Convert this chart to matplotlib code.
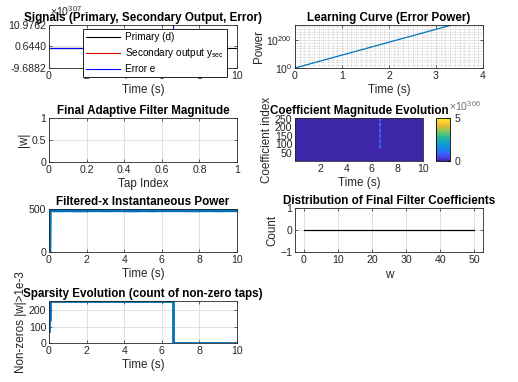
import numpy as np
import matplotlib
matplotlib.use("Agg")
import matplotlib.pyplot as plt
from matplotlib.colors import LinearSegmentedColormap

plt.rcParams['font.family'] = ['Liberation Sans', 'DejaVu Sans']
plt.rcParams['mathtext.fontset'] = 'custom'
plt.rcParams['mathtext.rm'] = 'Liberation Sans'
plt.rcParams['mathtext.it'] = 'Liberation Sans'
plt.rcParams['mathtext.default'] = 'regular'

W, H = 518, 382
TICK_FS = 7.6
LAB_FS = 8.4
AX_COL = '#262626'
MBLUE = (0.0, 0.447, 0.741)

# ---- data ----
# signals, in units of 1e307
sig_time = [0, 10]
primary = [0.0, 0.0]
sec_time = [0, 6.58]
secondary = [0.0, 0.0]
err_time = [0, 6.58, 6.58]
err_vals = [0.0, 0.0, 30.0]
sig_ticks = [-9.6882, 0.6440, 10.9762]

# learning curve (error power)
lc_time = [0.0, 3.3]
lc_power = [1e0, 1e305]

# coefficient magnitude evolution, units of 1e306
time_edges = [0.0, 6.56, 6.68, 10.0]
tap_edges = [0.5, 80, 96, 112, 128, 144, 160, 176, 192, 208, 224, 240, 256.5]
spike_col = [0.0, 1.0, 0.3, 1.0, 0.3, 1.0, 0.3, 1.0, 0.3, 1.0, 0.3, 1.0]

# filtered-x instantaneous power
fx_time = [0, 0.02, 0.5, 1.0, 1.5, 2.0, 2.5, 3.0, 3.5, 4.0, 4.5, 5.0, 5.5,
           6.0, 6.5, 7.0, 7.5, 8.0, 8.5, 9.0, 9.5, 10.0]
fx_power = [0, 490, 489, 491, 488, 490, 491, 489, 491, 490, 488, 491, 489,
            491, 490, 491, 489, 490, 491, 489, 491, 490]

# histogram of final coefficients (all empty)
hist_w = [0, 50]
hist_count = [0, 0]

# sparsity evolution
sp_time = [0, 0, 0.05, 0.05, 6.58, 6.58, 10]
sp_count = [75, 140, 140, 254, 254, 1, 1]

parula = LinearSegmentedColormap.from_list('parula', [
    (0.2422, 0.1504, 0.6603), (0.2803, 0.2782, 0.9221), (0.1801, 0.4264, 0.9969),
    (0.0855, 0.5328, 0.8826), (0.0596, 0.6183, 0.8138), (0.0942, 0.6901, 0.6788),
    (0.2586, 0.7494, 0.5303), (0.5499, 0.7800, 0.3544), (0.8304, 0.7330, 0.2246),
    (0.9926, 0.7836, 0.2195), (0.9763, 0.9831, 0.0538)])


def rect(l, t, r, b):
    return [l / W, 1 - b / H, (r - l) / W, (b - t) / H]


def style(ax, grid=True):
    for s in ax.spines.values():
        s.set_color(AX_COL)
        s.set_linewidth(0.6)
    ax.tick_params(direction='in', length=2.5, width=0.5, colors=AX_COL,
                   labelsize=TICK_FS, top=True, right=True, pad=2)
    if grid:
        ax.grid(True, color='#dcdcdc', linewidth=0.6)
        ax.set_axisbelow(True)


def title(ax, txt):
    ax.set_title(txt, fontsize=LAB_FS, fontweight='bold', pad=3)


fig = plt.figure(figsize=(W / 100, H / 100), dpi=100)

# 1. signals
ax = fig.add_axes(rect(49, 25, 237, 68))
style(ax)
ax.plot(sig_time, primary, color='k', lw=0.8, label='Primary (d)')
ax.plot(sec_time, secondary, color=(0.85, 0, 0), lw=0.8, label='Secondary output y$_{sec}$')
ax.plot(err_time, err_vals, color=(0, 0, 1), lw=0.8, label='Error e')
ax.set_xlim(0, 10)
ax.set_ylim(sig_ticks[0], sig_ticks[-1])
ax.set_yticks(sig_ticks)
ax.set_yticklabels(['%.4f' % v for v in sig_ticks])
ax.set_xticks([0, 2, 4, 6, 8, 10])
ax.set_xlabel('Time (s)', fontsize=LAB_FS, color=AX_COL, labelpad=2)
title(ax, 'Signals (Primary, Secondary Output, Error)')
fig.text(50 / W, 1 - 16 / H, r'$\times10^{307}$', fontsize=TICK_FS, color=AX_COL)
leg = ax.legend(loc='upper left', bbox_to_anchor=(83 / W, 1 - 29 / H),
                bbox_transform=fig.transFigure, fontsize=7.2, frameon=True,
                fancybox=False, edgecolor='k', framealpha=1, handlelength=3.4,
                borderaxespad=0, labelspacing=0.42, borderpad=0.3, handletextpad=0.5)
leg.get_frame().set_linewidth(0.6)
leg.set_zorder(20)

# 2. learning curve
ax = fig.add_axes(rect(295, 25, 483, 68))
style(ax)
ax.semilogy(lc_time, lc_power, color=MBLUE, lw=0.9)
ax.set_xlim(0, 4)
ax.set_ylim(1, 1e308)
ax.set_yticks([1e0, 1e200])
ax.set_yticklabels([r'$10^{0}$', r'$10^{200}$'])
ax.yaxis.set_minor_locator(matplotlib.ticker.FixedLocator([10.0 ** k for k in range(20, 308, 20)]))
ax.yaxis.set_minor_formatter(matplotlib.ticker.NullFormatter())
ax.set_xticks([0, 1, 2, 3, 4])
ax.xaxis.set_minor_locator(matplotlib.ticker.MultipleLocator(0.1))
ax.grid(True, which='minor', color='#b4b4b4', linewidth=0.5, linestyle=':')
ax.tick_params(which='minor', length=0)
ax.set_xlabel('Time (s)', fontsize=LAB_FS, color=AX_COL, labelpad=2)
ax.set_ylabel('Power', fontsize=LAB_FS, color=AX_COL, labelpad=1)
title(ax, 'Learning Curve (Error Power)')

# 3. final filter magnitude
ax = fig.add_axes(rect(49, 118, 237, 162))
style(ax)
ax.set_xlim(0, 1)
ax.set_ylim(0, 1)
ax.set_xticks([0, 0.2, 0.4, 0.6, 0.8, 1])
ax.set_xticklabels(['0', '0.2', '0.4', '0.6', '0.8', '1'])
ax.set_yticks([0, 0.5, 1])
ax.set_yticklabels(['0', '0.5', '1'])
ax.set_xlabel('Tap Index', fontsize=LAB_FS, color=AX_COL, labelpad=2)
ax.set_ylabel('|w|', fontsize=LAB_FS, color=AX_COL, labelpad=1)
title(ax, 'Final Adaptive Filter Magnitude')

# 4. coefficient magnitude evolution
ax = fig.add_axes(rect(295, 118, 423, 161))
style(ax, grid=False)
C = np.zeros((len(tap_edges) - 1, len(time_edges) - 1))
C[:, 1] = spike_col
mesh = ax.pcolormesh(time_edges, tap_edges, C, cmap=parula, vmin=0, vmax=5,
                     shading='flat')
ax.set_xlim(0, 10)
ax.set_ylim(0.5, 256.5)
ax.set_xticks([2, 4, 6, 8, 10])
ax.set_yticks([50, 100, 150, 200, 250])
ax.tick_params(top=False, right=False, length=0)
ax.set_xlabel('Time (s)', fontsize=LAB_FS, color=AX_COL, labelpad=2)
ax.set_ylabel('Coefficient index', fontsize=LAB_FS, color=AX_COL, labelpad=1)
title(ax, 'Coefficient Magnitude Evolution')
cax = fig.add_axes(rect(436, 118, 450, 161))
cb = fig.colorbar(mesh, cax=cax, ticks=[0, 5])
cb.outline.set_linewidth(0.6)
cax.tick_params(labelsize=TICK_FS, colors=AX_COL, direction='in', length=2)
fig.text(449 / W, 1 - 111 / H, r'$\times10^{306}$', fontsize=TICK_FS, color='#707070')

# 5. filtered-x power
ax = fig.add_axes(rect(49, 209, 237, 252))
style(ax)
ax.plot(fx_time, fx_power, color=MBLUE, lw=3.4, solid_joinstyle='miter')
ax.set_xlim(0, 10)
ax.set_ylim(0, 500)
ax.set_yticks([0, 500])
ax.set_xticks([0, 2, 4, 6, 8, 10])
ax.set_xlabel('Time (s)', fontsize=LAB_FS, color=AX_COL, labelpad=2)
title(ax, 'Filtered-x Instantaneous Power')

# 6. distribution of final coefficients
ax = fig.add_axes(rect(295, 208, 483, 252))
style(ax)
ax.plot(hist_w, hist_count, color='k', lw=0.9)
ax.set_xlim(-2.5, 52.5)
ax.set_ylim(-1, 1)
ax.set_xticks([0, 10, 20, 30, 40, 50])
ax.set_yticks([-1, 0, 1])
ax.set_xlabel('w', fontsize=LAB_FS, color=AX_COL, labelpad=3)
ax.set_ylabel('Count', fontsize=LAB_FS, color=AX_COL, labelpad=1)
title(ax, 'Distribution of Final Filter Coefficients')

# 7. sparsity evolution
ax = fig.add_axes(rect(49, 301, 237, 343))
style(ax)
ax.plot(sp_time, sp_count, color=MBLUE, lw=2.0)
ax.set_xlim(0, 10)
ax.set_ylim(0, 256)
ax.set_yticks([0, 100, 200])
ax.set_xticks([0, 2, 4, 6, 8, 10])
ax.set_xlabel('Time (s)', fontsize=LAB_FS, color=AX_COL, labelpad=2)
ax.set_ylabel('Non-zeros |w|>1e-3', fontsize=LAB_FS, color=AX_COL, labelpad=1)
title(ax, 'Sparsity Evolution (count of non-zero taps)')

fig.savefig('out.png', dpi=100)
